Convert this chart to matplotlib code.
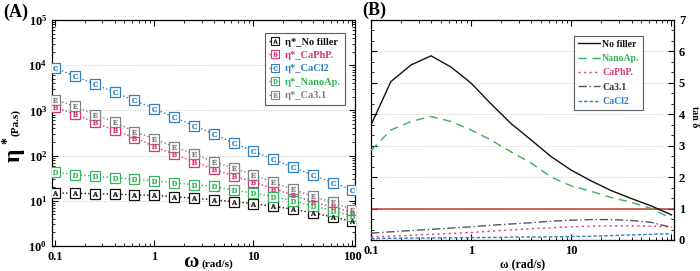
import matplotlib
matplotlib.use("Agg")
import matplotlib.pyplot as plt
from matplotlib.ticker import LogLocator, FixedLocator, MultipleLocator, NullFormatter, FixedFormatter
from matplotlib.legend_handler import HandlerTuple
import numpy as np

plt.rcParams['font.family'] = ['Liberation Serif', 'DejaVu Serif']
plt.rcParams['font.weight'] = 'bold'
plt.rcParams['mathtext.fontset'] = 'custom'
plt.rcParams['mathtext.rm'] = 'Liberation Serif:bold'
plt.rcParams['mathtext.bf'] = 'Liberation Serif:bold'

# ---------------- data ----------------
omega = [0.1, 0.158, 0.251, 0.398, 0.631, 1.0, 1.58, 2.51, 3.98, 6.31,
         10.0, 15.8, 25.1, 39.8, 63.1, 100.0]

# Panel A: complex viscosity (Pa.s)
eta_nofiller = [15, 14.6, 14.4, 14, 13.6, 13.2, 12.3, 11.4, 10.5, 9.6,
                8.7, 7.6, 6.5, 5.4, 4.4, 3.5]
eta_caphp = [1170, 830, 540, 360, 250, 160, 107, 74, 50, 35.5,
             26, 18.7, 13.3, 9.5, 7.3, 5.5]
eta_cacl2 = [8700, 5700, 3800, 2500, 1660, 1090, 710, 457, 302, 190,
             125, 83, 55, 37, 25.4, 17.5]
eta_nanoap = [43, 38, 35, 32.5, 30, 28, 25, 22.7, 21, 17,
              14.9, 12.4, 10, 7.7, 6.1, 4.6]
eta_ca31 = [1730, 1230, 810, 550, 340, 235, 158, 109, 74, 53,
            38, 25.5, 18, 12.5, 9.2, 6.4]

a_labels = ["η*_No filler", "η*_CaPhP.", "η*_CaCl2", "η*_NanoAp.", "η*_Ca3.1"]
a_letters = ["A", "B", "C", "D", "E"]

# Panel B: tan delta
tan_nofiller = [3.66, 5.04, 5.57, 5.86, 5.5, 4.99, 4.33, 3.7, 3.18, 2.65,
                2.22, 1.88, 1.57, 1.32, 1.08, 0.8]
tan_nanoap = [2.85, 3.5, 3.77, 3.93, 3.77, 3.5, 3.18, 2.8, 2.45, 2.0,
              1.72, 1.55, 1.35, 1.2, 1.0, 0.68]
tan_caphp = [0.1, 0.12, 0.15, 0.18, 0.21, 0.24, 0.28, 0.32, 0.36, 0.39,
             0.42, 0.44, 0.45, 0.45, 0.44, 0.42]
tan_ca31 = [0.22, 0.26, 0.3, 0.34, 0.38, 0.42, 0.47, 0.51, 0.55, 0.6,
            0.63, 0.65, 0.65, 0.62, 0.56, 0.4]
tan_cacl2 = [0.05, 0.055, 0.06, 0.065, 0.07, 0.075, 0.08, 0.09, 0.095, 0.1,
             0.11, 0.12, 0.14, 0.16, 0.18, 0.2]
b_labels = ["No filler", "NanoAp.", "CaPhP.", "Ca3.1", "CaCl2"]
ref_line = 1.0

# ---------------- styles ----------------
c_black = "#111111"
c_pink = "#d9367a"
c_blue = "#2f7fc1"
c_green = "#35b35a"
c_grey = "#808080"

fig = plt.figure(figsize=(7.0, 2.71), dpi=100)

# ---------------- Panel A ----------------
axA = fig.add_axes([52/700, 1-246/271, 303/700, 226/271])
a_series = [eta_nofiller, eta_caphp, eta_cacl2, eta_nanoap, eta_ca31]
a_colors = [c_black, c_pink, c_blue, c_green, c_grey]
handles = []
for vals, col, let, lab in zip(a_series, a_colors, a_letters, a_labels):
    axA.plot(omega, vals, linestyle=':', color=col, lw=1.0,
             marker='s', ms=6.5, mfc='white', mec=col, mew=0.9, zorder=3)
    axA.plot(omega, vals, linestyle='none', marker=r'$\mathrm{%s}$' % let, ms=3.6,
             color=col, mew=0.2, zorder=4)
    h1, = axA.plot([], [], linestyle=':', color=col, lw=1.0,
                   marker='s', ms=5.5, mfc='white', mec=col, mew=0.8)
    h2, = axA.plot([], [], linestyle='none', marker=r'$\mathrm{%s}$' % let, ms=3.0,
                   color=col, mew=0.2)
    handles.append((h1, h2))

axA.set_xscale('log')
axA.set_yscale('log')
axA.set_xlim(0.093, 106)
axA.set_ylim(1, 1e5)
axA.yaxis.set_major_locator(FixedLocator([1, 10, 100, 1e3, 1e4, 1e5]))
axA.yaxis.set_major_formatter(FixedFormatter([r'$\mathbf{10^0}$', r'$\mathbf{10^1}$', r'$\mathbf{10^2}$',
                                              r'$\mathbf{10^3}$', r'$\mathbf{10^4}$', r'$\mathbf{10^5}$']))
axA.yaxis.set_minor_locator(LogLocator(base=10, subs=np.arange(2, 10), numticks=20))
axA.yaxis.set_minor_formatter(NullFormatter())
axA.xaxis.set_major_locator(FixedLocator([0.1, 1, 10, 100]))
axA.xaxis.set_major_formatter(FixedFormatter(['0.1', '1', '10', '100']))
axA.xaxis.set_minor_locator(LogLocator(base=10, subs=np.arange(2, 10), numticks=20))
axA.xaxis.set_minor_formatter(NullFormatter())
axA.tick_params(which='both', direction='in', top=True, right=True, labelsize=9)
axA.tick_params(which='major', length=4, width=0.8)
axA.tick_params(which='minor', length=2, width=0.6)
axA.grid(axis='y', which='major', color='#c8c8c8', linestyle=':', lw=0.7)
for sp in axA.spines.values():
    sp.set_linewidth(0.9)

legA = axA.legend(handles, a_labels, loc='upper right', fontsize=7.5, frameon=True,
                  fancybox=False, edgecolor='#333333', handlelength=1.0,
                  handletextpad=0.5, borderpad=0.4, labelspacing=0.4,
                  bbox_to_anchor=(0.985, 0.965), numpoints=1,
                  handler_map={tuple: HandlerTuple(ndivide=1, pad=0)})
legA.get_frame().set_linewidth(0.8)
for txt, col in zip(legA.get_texts(), a_colors):
    txt.set_color(col)

fig.text(3/700, 1-12/271, '(A)', fontsize=13, fontweight='bold', va='center', ha='left')
fig.text(14/700, 1-155/271, 'η', fontsize=17, rotation=90, va='center', ha='center')
fig.text(8/700, 1-141/271, '*', fontsize=10, rotation=90, va='center', ha='center')
fig.text(16/700, 1-122/271, '(Pa.s)', fontsize=8, rotation=90, va='center', ha='center')
fig.text(191/700, 1-262/271, 'ω', fontsize=15, va='center', ha='center')
fig.text(217/700, 1-264/271, '(rad/s)', fontsize=8, va='center', ha='center')

# ---------------- Panel B ----------------
axB = fig.add_axes([371/700, 1-240/271, 303/700, 220/271])
axB.axhline(ref_line, color='#c0392b', lw=1.1, zorder=2)
b_series = [tan_nofiller, tan_nanoap, tan_caphp, tan_ca31, tan_cacl2]
b_colors = [c_black, c_green, c_pink, '#555555', c_blue]
b_styles = ['-', (0, (6, 4)), (0, (1.5, 2.5)), (0, (6, 2, 1, 2)), (0, (2.5, 1.5))]
b_handles = []
for vals, col, ls in zip(b_series, b_colors, b_styles):
    ln, = axB.plot(omega, vals, color=col, linestyle=ls, lw=1.0, zorder=3)
    b_handles.append(ln)
axB.set_xscale('log')
axB.set_xlim(0.1, 106)
axB.set_ylim(0, 7)
axB.xaxis.set_major_locator(FixedLocator([0.1, 1, 10, 100]))
axB.xaxis.set_major_formatter(FixedFormatter(['0.1', '1', '10', '']))
axB.xaxis.set_minor_locator(LogLocator(base=10, subs=np.arange(2, 10), numticks=20))
axB.xaxis.set_minor_formatter(NullFormatter())
axB.yaxis.set_major_locator(MultipleLocator(1))
axB.yaxis.set_minor_locator(MultipleLocator(1/3))
axB.tick_params(which='both', direction='in', top=True, right=True, left=True,
                labelleft=False, labelright=True, labelsize=9)
axB.tick_params(which='major', length=4, width=0.8)
axB.tick_params(which='minor', length=2, width=0.6)
axB.grid(axis='y', which='major', color='#c8c8c8', linestyle=':', lw=0.7)
for sp in axB.spines.values():
    sp.set_linewidth(0.9)

legB = axB.legend(b_handles, b_labels, loc='upper right', fontsize=7, frameon=True,
                  fancybox=False, edgecolor='#333333', handlelength=2.3,
                  handletextpad=0.2, borderpad=0.4, labelspacing=0.55,
                  bbox_to_anchor=(0.915, 0.95))
legB.get_frame().set_linewidth(0.8)
for txt, col in zip(legB.get_texts(), [c_black, c_green, c_pink, '#333333', c_blue]):
    txt.set_color(col)

fig.text(362/700, 1-10/271, '(B)', fontsize=13, fontweight='bold', va='center', ha='left')
fig.text(523/700, 1-264/271, 'ω (rad/s)', fontsize=8.5, va='center', ha='center')
fig.text(694/700, 1-117/271, 'tan δ', fontsize=7, rotation=270, va='center', ha='center')

fig.savefig('out.png', dpi=100)
